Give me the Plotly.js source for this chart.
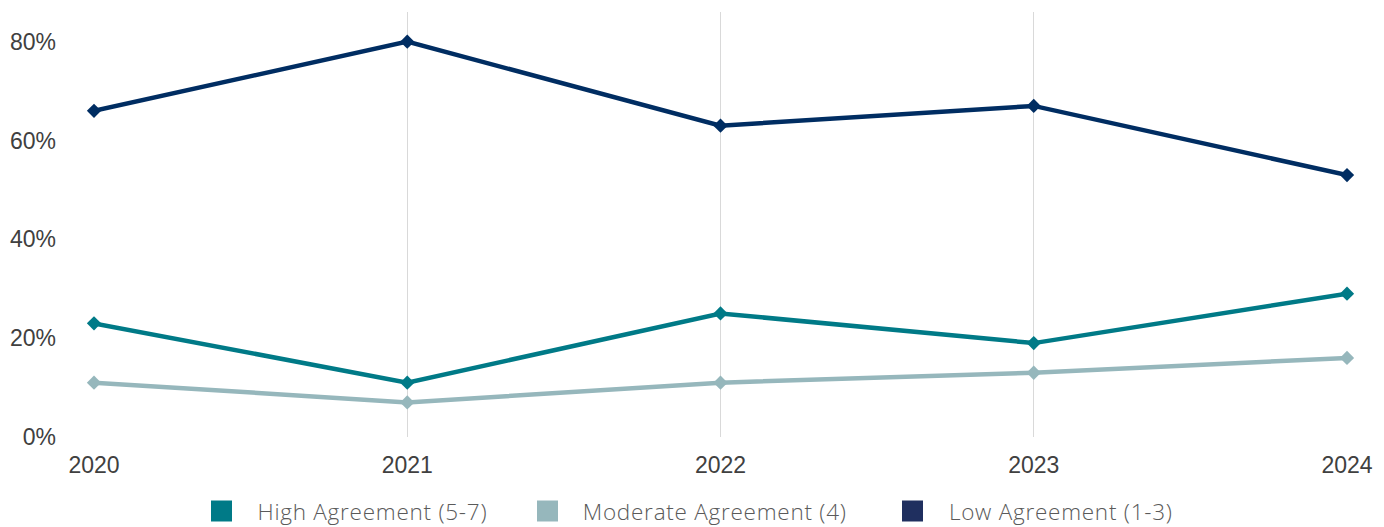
<!DOCTYPE html>
<html>
<head>
<meta charset="utf-8">
<script src="https://cdn.plot.ly/plotly-3.0.1.min.js"></script>
<style>
  html, body { margin: 0; padding: 0; background: #fff; }
  #chart { width: 1384px; height: 527px; }
  /* slightly airy spacing for the legend captions */
  #chart .annotation-text { letter-spacing: 0.75px; }
</style>
</head>
<body>
<div id="chart"></div>
<script>
// Survey years
const years = ['2020', '2021', '2022', '2023', '2024'];

// Share of respondents per agreement band (%)
const highAgreement = [23, 11, 25, 19, 29];
const moderateAgreement = [11, 7, 11, 13, 16];
const lowAgreement = [66, 80, 63, 67, 53];

const seriesNames = ['High Agreement (5-7)', 'Moderate Agreement (4)', 'Low Agreement (1-3)'];
const lineColors = ['#007A87', '#96B7BC', '#002D62'];
const legendColors = ['#007A87', '#96B7BC', '#1F2F5F'];

const yTicks = [0, 20, 40, 60, 80];
const yTickText = ['0%', '20%', '40%', '60%', '80%'];

const W = 1384, H = 527;
const margin = { l: 94, r: 37, t: 12, b: 90 };
const plotW = W - margin.l - margin.r;
const plotH = H - margin.t - margin.b;

function lineTrace(values, i) {
  return {
    x: years,
    y: values,
    name: seriesNames[i],
    type: 'scatter',
    mode: 'lines+markers',
    cliponaxis: false,
    line: { color: lineColors[i], width: 4.5 },
    marker: { color: lineColors[i], symbol: 'diamond', size: 11 },
    showlegend: false,
    hoverinfo: 'x+y+name'
  };
}

const traces = [
  lineTrace(lowAgreement, 2),
  lineTrace(moderateAgreement, 1),
  lineTrace(highAgreement, 0)
];

// Legend row along the bottom: swatch left edges, in page pixels
const swatchLeft = [211, 537, 902];
const swatchSize = 21;
const legendCenterY = 511;
const labelGap = 31; // captions are centred in their measured box, so offset for the extra letter spacing
const toPaperX = px => (px - margin.l) / plotW;
const toPaperY = py => (H - margin.b - py) / plotH;

const shapes = [];
const annotations = [];
seriesNames.forEach((name, i) => {
  shapes.push({
    type: 'rect', xref: 'paper', yref: 'paper',
    x0: toPaperX(swatchLeft[i]), x1: toPaperX(swatchLeft[i] + swatchSize),
    y0: toPaperY(legendCenterY + swatchSize / 2), y1: toPaperY(legendCenterY - swatchSize / 2),
    fillcolor: legendColors[i], line: { width: 0 }
  });
  annotations.push({
    xref: 'paper', yref: 'paper',
    x: toPaperX(swatchLeft[i] + swatchSize + labelGap), y: toPaperY(legendCenterY),
    xanchor: 'left', yanchor: 'middle',
    text: name, showarrow: false,
    font: { family: 'Open Sans, sans-serif', size: 22.5, weight: 300, color: '#5a5a5a' }
  });
});

const layout = {
  width: W,
  height: H,
  margin: margin,
  paper_bgcolor: '#ffffff',
  plot_bgcolor: '#ffffff',
  showlegend: false,
  xaxis: {
    type: 'category',
    range: [0, years.length - 1],
    showgrid: true,
    gridcolor: '#d9d9d9',
    gridwidth: 1,
    zeroline: false,
    showline: false,
    ticks: '',
    ticklabelstandoff: 12,
    tickfont: { family: 'Liberation Sans, Arial, sans-serif', size: 23, color: '#404040' }
  },
  yaxis: {
    range: [0, 86],
    tickvals: yTicks,
    ticktext: yTickText,
    showgrid: false,
    zeroline: false,
    showline: false,
    ticks: '',
    ticklabelstandoff: 37,
    tickfont: { family: 'Liberation Sans, Arial, sans-serif', size: 23, color: '#404040' }
  },
  shapes: shapes,
  annotations: annotations
};

Plotly.newPlot('chart', traces, layout, { displayModeBar: false, staticPlot: true });
</script>
</body>
</html>
